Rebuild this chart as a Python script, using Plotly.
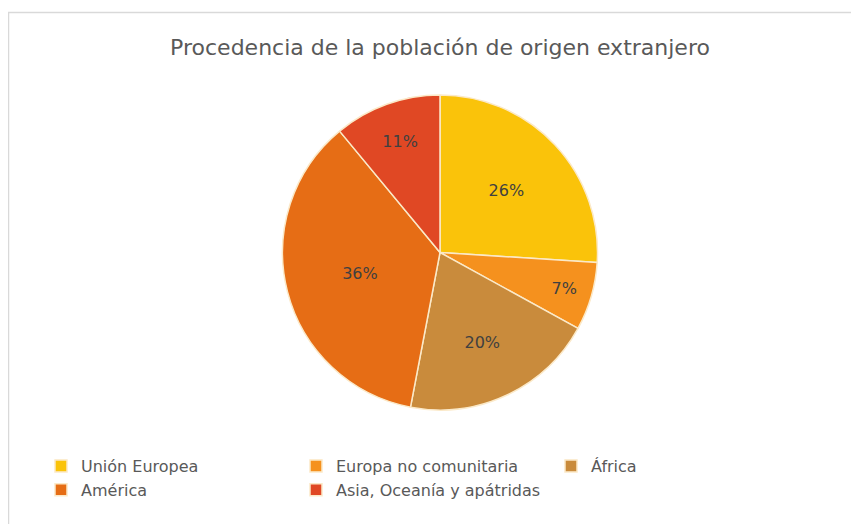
import plotly.graph_objects as go

categories = ["Unión Europea", "Europa no comunitaria", "África", "América", "Asia, Oceanía y apátridas"]
values = [26, 7, 20, 36, 11]
colors = ["#FAC30A", "#F5911E", "#C98B3C", "#E66D15", "#E04824"]

W, H = 859, 524
OFF = 8  # page body margin offset

def px_x(v):
    return (v - OFF) / W

def px_y(v):
    return 1 - (v - OFF) / H

fig = go.Figure()
fig.add_trace(go.Pie(
    labels=categories,
    values=values,
    sort=False,
    direction="clockwise",
    rotation=0,
    marker=dict(colors=colors, line=dict(color="#FBE9C8", width=1.5)),
    textinfo="percent",
    texttemplate="%{percent:.0%}",
    textposition="inside",
    insidetextorientation="horizontal",
    textfont=dict(family="DejaVu Sans", size=16, color="#404040"),
    domain=dict(x=[px_x(282), px_x(598)], y=[px_y(410), px_y(95)]),
    hoverinfo="label+percent",
))

fig.add_shape(type="rect", xref="paper", yref="paper",
              x0=px_x(8.5), x1=1.05, y0=-0.05, y1=px_y(12.5),
              line=dict(color="#D9D9D9", width=1.5), fillcolor="rgba(0,0,0,0)")

fig.update_layout(
    width=W, height=H,
    margin=dict(l=0, r=0, t=0, b=0),
    paper_bgcolor="white",
    plot_bgcolor="white",
    title=dict(text="Procedencia de la población de origen extranjero",
               x=px_x(440), xanchor="center", y=px_y(47), yanchor="middle",
               font=dict(family="DejaVu Sans", size=22, color="#595959")),
    showlegend=True,
    legend=dict(orientation="h", x=px_x(41), xanchor="left", y=px_y(449), yanchor="top",
                entrywidth=210, entrywidthmode="pixels",
                font=dict(family="DejaVu Sans", size=16, color="#595959"),
                bgcolor="rgba(0,0,0,0)"),
)

fig.write_html("out.html")
